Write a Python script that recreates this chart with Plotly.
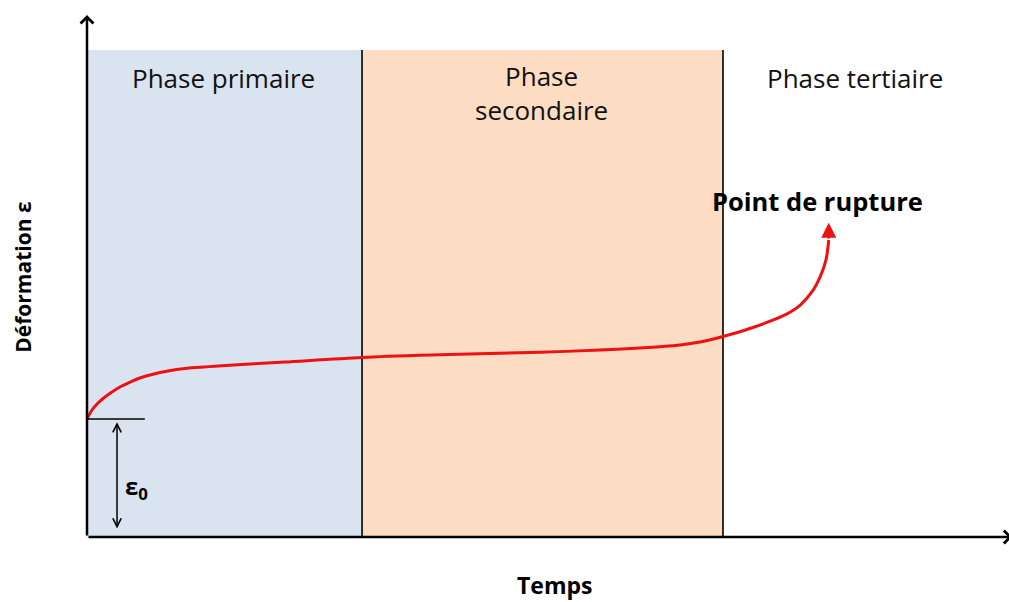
import plotly.graph_objects as go

# ---- data (time units 0..100, strain units 0..100) ----
time = [0.0, 0.545, 1.2, 1.96, 2.72, 3.59, 4.47, 5.77, 7.08, 8.82, 10.68, 14.27,
        21.57, 29.96, 38.45, 49.35, 55.88, 60.24, 62.42, 64.6, 66.78, 69.28, 72.2,
        75.8, 76.8, 77.7, 79.1, 79.85, 80.5, 80.8]
strain = [22.6, 24.33, 25.67, 26.82, 27.78, 28.74, 29.5, 30.46, 31.13, 31.8, 32.28, 32.76,
          33.52, 34.4, 34.9, 35.4, 35.8, 36.2, 36.46, 36.78, 37.36, 38.41, 39.94,
          42.34, 43.3, 44.44, 47.3, 49.8, 53.1, 56.9]
rupture_tip = [80.8, 60.2]
eps0 = 22.6
phase_bounds = [0.0, 29.96, 69.28]
phase_top = 93.3
phase_labels = ["Phase primaire", "Phase<br>secondaire", "Phase tertiaire"]
phase_label_x = [14.9, 49.5, 83.7]
phase_label_y = [87.9, 85.0, 87.9]
phase_colors = ["#DAE3F0", "#FCDCC3"]

X_RANGE = [-9.477, 100.436]
Y_RANGE = [-12.45, 102.87]
AXIS_X_END = 100.8
AXIS_Y_END = 100.0

fig = go.Figure()

fig.add_trace(go.Scatter(
    x=time, y=strain, mode="lines",
    line=dict(color="#EE1111", width=3, shape="spline", smoothing=0.8),
    hoverinfo="skip", showlegend=False))

shapes = []
for i, c in enumerate(phase_colors):
    shapes.append(dict(type="rect", xref="x", yref="y", x0=phase_bounds[i], x1=phase_bounds[i + 1],
                       y0=0, y1=phase_top, fillcolor=c, line=dict(width=0), layer="below"))
for b in phase_bounds[1:]:
    shapes.append(dict(type="line", xref="x", yref="y", x0=b, x1=b, y0=0, y1=phase_top,
                       line=dict(color="black", width=1.6), layer="below"))
shapes.append(dict(type="line", xref="x", yref="y", x0=0, x1=6.3, y0=eps0, y1=eps0,
                   line=dict(color="black", width=1.5)))

annotations = []
annotations.append(dict(x=0, y=AXIS_Y_END, ax=0, ay=0, xref="x", yref="y", axref="x", ayref="y",
                        text="", showarrow=True, arrowhead=4, arrowsize=1, arrowwidth=2.5,
                        arrowcolor="black", standoff=0, startstandoff=0))
annotations.append(dict(x=AXIS_X_END, y=0, ax=0, ay=0, xref="x", yref="y", axref="x", ayref="y",
                        text="", showarrow=True, arrowhead=4, arrowsize=1, arrowwidth=2.5,
                        arrowcolor="black", standoff=0, startstandoff=0))
annotations.append(dict(x=3.27, y=eps0 - 0.6, ax=3.27, ay=1.34, xref="x", yref="y", axref="x", ayref="y",
                        text="", showarrow=True, arrowhead=5, arrowside="end+start", arrowsize=1.1,
                        arrowwidth=1.5, arrowcolor="black"))
annotations.append(dict(x=5.4, y=9.5, xref="x", yref="y", text="<b>ε<sub>0</sub></b>", showarrow=False,
                        font=dict(family="Open Sans", size=24, color="black")))
annotations.append(dict(x=rupture_tip[0], y=rupture_tip[1], ax=time[-1], ay=strain[-1],
                        xref="x", yref="y", axref="x", ayref="y",
                        text="", showarrow=True, arrowhead=2, arrowsize=1, arrowwidth=3,
                        arrowcolor="#EE1111", standoff=0))
annotations.append(dict(x=79.6, y=64.4, xref="x", yref="y", text="<b>Point de rupture</b>", showarrow=False,
                        font=dict(family="Open Sans", size=25.5, color="black")))
for lbl, lx, ly in zip(phase_labels, phase_label_x, phase_label_y):
    annotations.append(dict(x=lx, y=ly, xref="x", yref="y", text=lbl, showarrow=False,
                            yanchor="middle", font=dict(family="Open Sans", size=26, color="#111111")))
annotations.append(dict(x=50.9, y=-9.2, xref="x", yref="y", text="<b>Temps</b>", showarrow=False,
                        borderpad=0, font=dict(family="Open Sans", size=23, color="black")))
annotations.append(dict(x=-7.0, y=49.8, xref="x", yref="y", text="<b>Déformation ε</b>", showarrow=False,
                        textangle=-90,
                        font=dict(family="Open Sans", size=21, color="black")))

fig.update_layout(
    width=1009, height=602,
    margin=dict(l=0, r=0, t=0, b=0),
    paper_bgcolor="white", plot_bgcolor="white",
    xaxis=dict(range=X_RANGE, visible=False, fixedrange=True),
    yaxis=dict(range=Y_RANGE, visible=False, fixedrange=True),
    shapes=shapes, annotations=annotations,
    showlegend=False,
)

fig.write_html("out.html", config={"displayModeBar": False},
               post_script="document.body.style.margin='0';document.body.style.overflow='hidden';")
